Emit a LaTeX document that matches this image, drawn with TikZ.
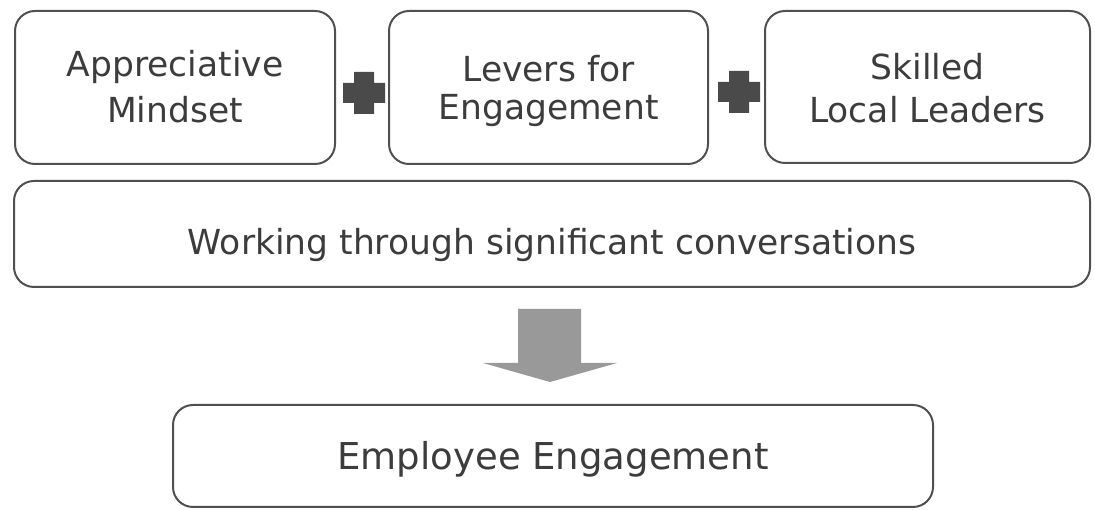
\documentclass[tikz,border=0pt]{standalone}
\usepackage{fontspec}
\setmainfont{DejaVu Sans}
\begin{document}
\begin{tikzpicture}[x=1pt,y=1pt,
  box/.style={draw=boxline, line width=2pt, rounded corners=20pt, fill=white},
  caption/.style={text=txt, inner sep=0pt, anchor=base, font=\fontsize{34.5}{40}\selectfont},
  bigcaption/.style={caption, font=\fontsize{37}{44}\selectfont},
  plusmark/.style={fill=plusgray, draw=none}]
\definecolor{boxline}{HTML}{505050}
\definecolor{txt}{HTML}{3C3C3C}
\definecolor{plusgray}{HTML}{4A4A4A}
\definecolor{arrowgray}{HTML}{999999}
\useasboundingbox (0,0) rectangle (1095,510);

% three input boxes
\node[box, minimum width=320pt, minimum height=153pt] (mind) at (175,422.5) {};
\node[box, minimum width=319pt, minimum height=153pt] (lev) at (548.5,422.5) {};
\node[box, minimum width=325pt, minimum height=152pt] (lead) at (927.5,423) {};
\node[caption] (mindA) at (mind.center |- 0,433) {Appreciative};
\node[caption] (mindB) at (mind.center |- 0,387) {Mindset};
\node[caption] (levA) at (lev.center |- 0,428) {Levers for};
\node[caption] (levB) at (lev.center |- 0,390) {Engagement};
\node[caption] (leadA) at (lead.center |- 0,430) {Skilled};
\node[caption] (leadB) at (lead.center |- 0,387) {Local Leaders};

% plus signs between the boxes
\coordinate (p1) at (364,417);
\coordinate (p2) at (739,418);
\foreach \p in {p1,p2}{
  \fill[plusmark] ([shift={(-21,-10)}]\p) -- ++(11,0) -- ++(0,-11) -- ++(20,0) -- ++(0,11)
    -- ++(11,0) -- ++(0,20) -- ++(-11,0) -- ++(0,11) -- ++(-20,0) -- ++(0,-11) -- ++(-11,0) -- cycle;
}

% conversation band
\node[box, minimum width=1076pt, minimum height=106pt] (conv) at (552,276) {};
\node[caption] (convt) at (conv.center |- 0,255) {Working through significant conversations};

% outcome box
\node[box, minimum width=760pt, minimum height=102pt] (eng) at (553,54) {};
\node[bigcaption] (engt) at (eng.center |- 0,40) {Employee Engagement};

% block arrow from band to outcome
\coordinate (atop) at (549.5,201);
\coordinate (atip) at (550,128);
\fill[arrowgray] ([xshift=-31.5pt]atop) -- ([xshift=31.5pt]atop) -- ([xshift=31.5pt]atop |- 0,147)
  -- (617,147) -- (atip) -- (483,147) -- ([xshift=-31.5pt]atop |- 0,147) -- cycle;
\end{tikzpicture}
\end{document}
